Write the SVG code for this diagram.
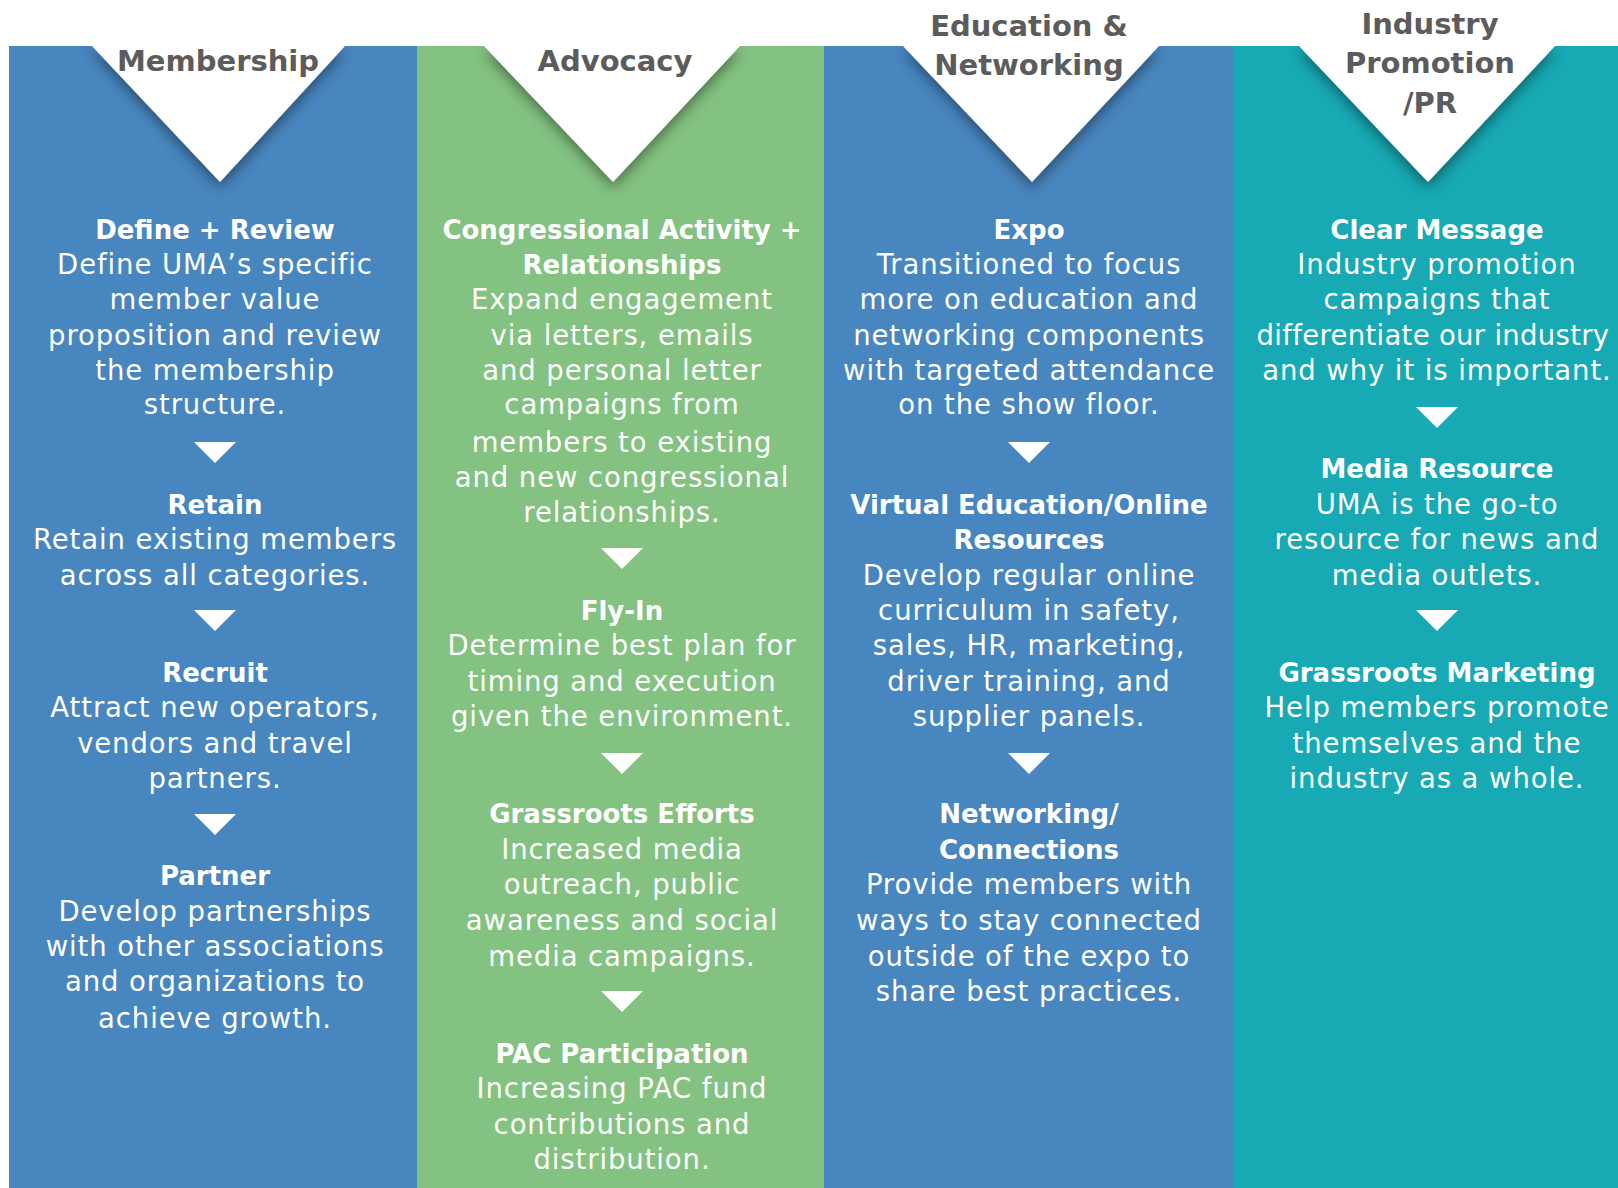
<svg xmlns="http://www.w3.org/2000/svg" width="1618" height="1188" viewBox="0 0 1618 1188">
<style>
.hd{font-family:"DejaVu Sans",Verdana,sans-serif;font-weight:bold;font-size:29px;fill:#5c5c5c;text-anchor:middle}
.t{font-family:"DejaVu Sans",Verdana,sans-serif;font-weight:bold;font-size:26px;fill:#ffffff;text-anchor:middle}
.b{font-family:"DejaVu Sans",Verdana,sans-serif;font-size:27.5px;letter-spacing:0.9px;fill:#ffffff;text-anchor:middle}
.arr{fill:#ffffff}
.notch{fill:#ffffff}
</style>
<defs>
<filter id="sh" x="-20%" y="-20%" width="140%" height="150%">
<feDropShadow dx="0" dy="5" stdDeviation="7" flood-color="#000000" flood-opacity="0.45"/>
</filter>
<clipPath id="cols"><rect x="9" y="46" width="1609" height="1142"/></clipPath>
</defs>
<rect x="0" y="0" width="1618" height="1188" fill="#ffffff"/>

<g id="col-membership">
<rect x="9" y="46" width="408" height="1142" fill="#4886bf"/>
<g clip-path="url(#cols)"><polygon class="notch" filter="url(#sh)" points="92,46 345,46 220,182"/></g>
<text class="hd" x="218" y="71">Membership</text>
<text class="t" x="215" y="239">Define + Review</text>
<text class="b" x="215" y="274">Define UMA’s specific</text>
<text class="b" x="215" y="309">member value</text>
<text class="b" x="215" y="345">proposition and review</text>
<text class="b" x="215" y="380">the membership</text>
<text class="b" x="215" y="414">structure.</text>
<text class="t" x="215" y="514">Retain</text>
<text class="b" x="215" y="549">Retain existing members</text>
<text class="b" x="215" y="585">across all categories.</text>
<text class="t" x="215" y="682">Recruit</text>
<text class="b" x="215" y="717">Attract new operators,</text>
<text class="b" x="215" y="753">vendors and travel</text>
<text class="b" x="215" y="788">partners.</text>
<text class="t" x="215" y="885">Partner</text>
<text class="b" x="215" y="921">Develop partnerships</text>
<text class="b" x="215" y="956">with other associations</text>
<text class="b" x="215" y="991">and organizations to</text>
<text class="b" x="215" y="1028">achieve growth.</text>
</g>

<g id="col-advocacy">
<rect x="417" y="46" width="407" height="1142" fill="#83c280"/>
<g clip-path="url(#cols)"><polygon class="notch" filter="url(#sh)" points="484,46 740,46 613,182"/></g>
<text class="hd" x="615" y="71">Advocacy</text>
<text class="t" x="622" y="239">Congressional Activity +</text>
<text class="t" x="622" y="274">Relationships</text>
<text class="b" x="622" y="309">Expand engagement</text>
<text class="b" x="622" y="345">via letters, emails</text>
<text class="b" x="622" y="380">and personal letter</text>
<text class="b" x="622" y="414">campaigns from</text>
<text class="b" x="622" y="452">members to existing</text>
<text class="b" x="622" y="487">and new congressional</text>
<text class="b" x="622" y="522">relationships.</text>
<text class="t" x="622" y="620">Fly-In</text>
<text class="b" x="622" y="655">Determine best plan for</text>
<text class="b" x="622" y="691">timing and execution</text>
<text class="b" x="622" y="726">given the environment.</text>
<text class="t" x="622" y="823">Grassroots Efforts</text>
<text class="b" x="622" y="859">Increased media</text>
<text class="b" x="622" y="894">outreach, public</text>
<text class="b" x="622" y="930">awareness and social</text>
<text class="b" x="622" y="966">media campaigns.</text>
<text class="t" x="622" y="1063">PAC Participation</text>
<text class="b" x="622" y="1098">Increasing PAC fund</text>
<text class="b" x="622" y="1134">contributions and</text>
<text class="b" x="622" y="1169">distribution.</text>
</g>

<g id="col-education">
<rect x="824" y="46" width="409" height="1142" fill="#4886bf"/>
<g clip-path="url(#cols)"><polygon class="notch" filter="url(#sh)" points="903,46 1159,46 1032,182"/></g>
<text class="hd" x="1029" y="36">Education &amp;</text>
<text class="hd" x="1029" y="75">Networking</text>
<text class="t" x="1029" y="239">Expo</text>
<text class="b" x="1029" y="274">Transitioned to focus</text>
<text class="b" x="1029" y="309">more on education and</text>
<text class="b" x="1029" y="345">networking components</text>
<text class="b" x="1029" y="380">with targeted attendance</text>
<text class="b" x="1029" y="414">on the show floor.</text>
<text class="t" x="1029" y="514">Virtual Education/Online</text>
<text class="t" x="1029" y="549">Resources</text>
<text class="b" x="1029" y="585">Develop regular online</text>
<text class="b" x="1029" y="620">curriculum in safety,</text>
<text class="b" x="1029" y="655">sales, HR, marketing,</text>
<text class="b" x="1029" y="691">driver training, and</text>
<text class="b" x="1029" y="726">supplier panels.</text>
<text class="t" x="1029" y="823">Networking/</text>
<text class="t" x="1029" y="859">Connections</text>
<text class="b" x="1029" y="894">Provide members with</text>
<text class="b" x="1029" y="930">ways to stay connected</text>
<text class="b" x="1029" y="966">outside of the expo to</text>
<text class="b" x="1029" y="1001">share best practices.</text>
</g>

<g id="col-industry">
<rect x="1233" y="46" width="385" height="1142" fill="#17a9b4"/>
<g clip-path="url(#cols)"><polygon class="notch" filter="url(#sh)" points="1299,46 1555,46 1428,182"/></g>
<text class="hd" x="1430" y="34">Industry</text>
<text class="hd" x="1430" y="73">Promotion</text>
<text class="hd" x="1430" y="113">/PR</text>
<text class="t" x="1437" y="239">Clear Message</text>
<text class="b" x="1437" y="274">Industry promotion</text>
<text class="b" x="1437" y="309">campaigns that</text>
<text class="b" x="1433" y="345" style="letter-spacing:0.3px">differentiate our industry</text>
<text class="b" x="1437" y="380">and why it is important.</text>
<text class="t" x="1437" y="478">Media Resource</text>
<text class="b" x="1437" y="514">UMA is the go-to</text>
<text class="b" x="1437" y="549">resource for news and</text>
<text class="b" x="1437" y="585">media outlets.</text>
<text class="t" x="1437" y="682">Grassroots Marketing</text>
<text class="b" x="1437" y="717">Help members promote</text>
<text class="b" x="1437" y="753">themselves and the</text>
<text class="b" x="1437" y="788">industry as a whole.</text>
</g>

<g id="connectors">
<polygon class="arr" points="194,442 236,442 215,463"/>
<polygon class="arr" points="194,610 236,610 215,631"/>
<polygon class="arr" points="194,814 236,814 215,835"/>
<polygon class="arr" points="601,548 643,548 622,569"/>
<polygon class="arr" points="601,753 643,753 622,774"/>
<polygon class="arr" points="601,991 643,991 622,1012"/>
<polygon class="arr" points="1008,442 1050,442 1029,463"/>
<polygon class="arr" points="1008,753 1050,753 1029,774"/>
<polygon class="arr" points="1416,407 1458,407 1437,428"/>
<polygon class="arr" points="1416,610 1458,610 1437,631"/>
</g>
</svg>
